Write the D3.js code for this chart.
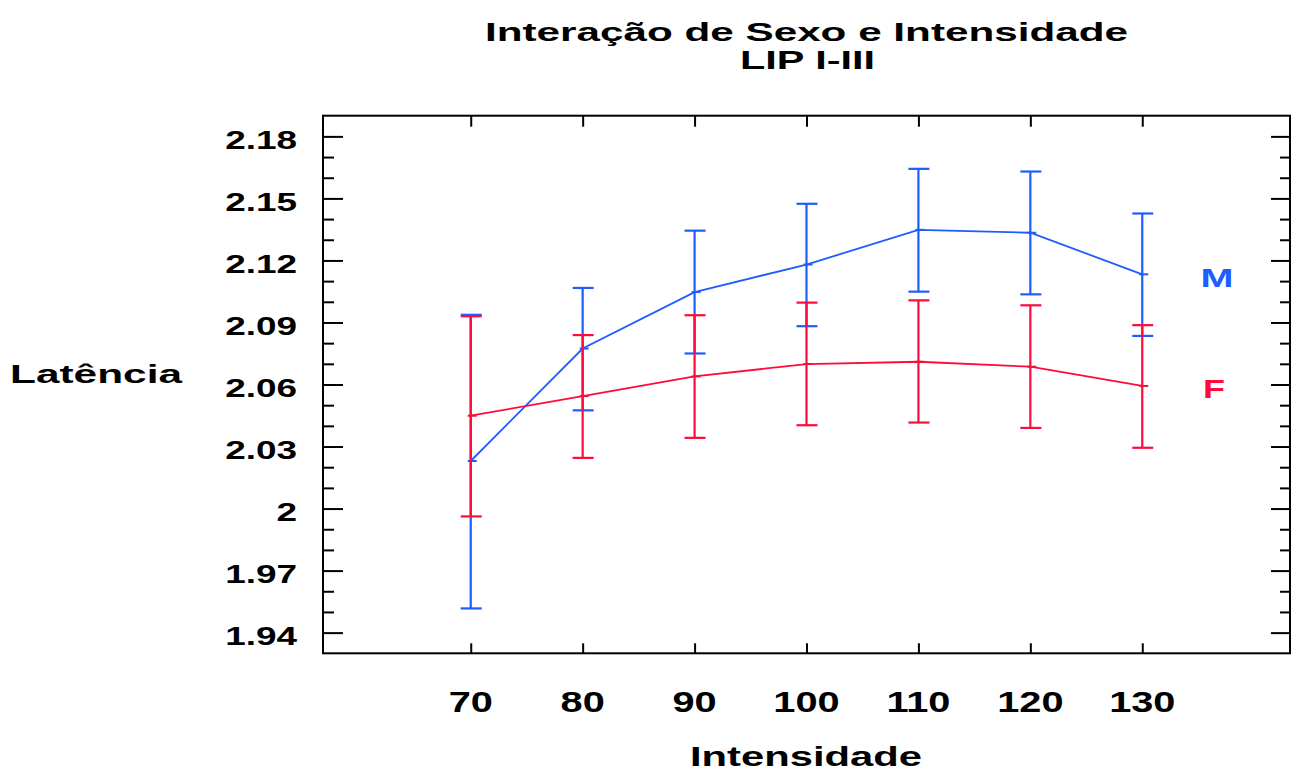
<!DOCTYPE html>
<html>
<head>
<meta charset="utf-8">
<script src="https://cdn.jsdelivr.net/npm/d3@7/dist/d3.min.js"></script>
<style>
  html, body { margin: 0; padding: 0; background: #fff; }
  svg { display: block; }
  text { font-family: "Liberation Sans", Arial, sans-serif; font-weight: bold; }
</style>
</head>
<body>
<svg id="chart" width="1299" height="774"></svg>
<script>
// ---- data ----
const intensities = [70, 80, 90, 100, 110, 120, 130];
const mMean  = [2.0230, 2.0774, 2.1047, 2.1180, 2.1348, 2.1334, 2.1133];
const mLower = [1.9517, 2.0475, 2.0750, 2.0882, 2.1049, 2.1036, 2.0835];
const mUpper = [2.0937, 2.1067, 2.1344, 2.1474, 2.1643, 2.1630, 2.1427];
const fMean  = [2.0449, 2.0544, 2.0639, 2.0699, 2.0710, 2.0686, 2.0593];
const fLower = [1.9962, 2.0245, 2.0342, 2.0403, 2.0416, 2.0390, 2.0294];
const fUpper = [2.0930, 2.0839, 2.0935, 2.0996, 2.1007, 2.0983, 2.0887];
const yTickLabels = [1.94, 1.97, 2.00, 2.03, 2.06, 2.09, 2.12, 2.15, 2.18];
const yMinorTicks = [1.94,1.95,1.96,1.97,1.98,1.99,2.00,2.01,2.02,2.03,2.04,2.05,2.06,2.07,2.08,2.09,2.10,2.11,2.12,2.13,2.14,2.15,2.16,2.17,2.18];
const xTickLabels = [70, 80, 90, 100, 110, 120, 130];
const seriesNames = ["M", "F"];
const titleLines = ["Interação de Sexo e Intensidade", "LIP I-III"];
const xTitle = "Intensidade";
const yTitle = "Latência";

// ---- layout ----
const L = 323, R = 1290, T = 115.7, B = 653.3;
const BLUE = "#1f5cff", RED = "#ff0a3a";

const svg = d3.select("#chart");
const x = d3.scaleLinear().domain([56.8, 143.2]).range([L, R]);
const y = d3.scaleLinear().domain([1.93, 2.19]).range([B, T]);

const isMajor = v => Math.round((v - 1.94) / 0.01) % 3 === 0;

// ticks via axes
const tickStyle = g => {
  g.select(".domain").remove();
  g.selectAll("text").remove();
  g.selectAll("line").attr("stroke", "#000").attr("stroke-width", 2);
};
const leftAx = svg.append("g").attr("transform", `translate(${L},0)`)
  .call(d3.axisRight(y).tickValues(yMinorTicks).tickSize(11)).call(tickStyle);
leftAx.selectAll(".tick line").attr("x2", d => isMajor(d) ? 20 : 11);
const rightAx = svg.append("g").attr("transform", `translate(${R},0)`)
  .call(d3.axisLeft(y).tickValues(yMinorTicks).tickSize(10)).call(tickStyle);
rightAx.selectAll(".tick line").attr("x2", d => isMajor(d) ? -19 : -10);
svg.append("g").attr("transform", `translate(0,${B})`)
  .call(d3.axisTop(x).tickValues(xTickLabels).tickSize(10)).call(tickStyle);
svg.append("g").attr("transform", `translate(0,${T})`)
  .call(d3.axisBottom(x).tickValues(xTickLabels).tickSize(11)).call(tickStyle);

// frame
svg.append("rect").attr("x", L).attr("y", T).attr("width", R - L).attr("height", B - T)
  .attr("fill", "none").attr("stroke", "#000").attr("stroke-width", 2);

// tick labels
svg.append("g").selectAll("text").data(yTickLabels).join("text")
  .attr("transform", d => `translate(297,${y(d) + 12.5}) scale(1.42,1)`)
  .attr("text-anchor", "end").attr("font-size", 26).attr("fill", "#000")
  .text(d => d3.format("")(+d.toFixed(2)));
svg.append("g").selectAll("text").data(xTickLabels).join("text")
  .attr("transform", d => `translate(${x(d)},712) scale(1.37,1)`)
  .attr("text-anchor", "middle").attr("font-size", 29).attr("fill", "#000")
  .text(d => d);

// titles
const tText = (str, cx, by, fs, w, color) => svg.append("text")
  .attr("x", cx).attr("y", by).attr("text-anchor", "middle").attr("font-size", fs)
  .attr("fill", color || "#000").attr("textLength", w).attr("lengthAdjust", "spacingAndGlyphs")
  .text(str);
tText(titleLines[0], 806.5, 41, 26, 643);
tText(titleLines[1], 807.5, 68.5, 26, 135);
tText(yTitle, 96, 383, 25, 172);
tText(xTitle, 806, 766, 28, 232);

// series
const series = [
  { name: seriesNames[0], mean: mMean, lo: mLower, hi: mUpper, color: BLUE },
  { name: seriesNames[1], mean: fMean, lo: fLower, hi: fUpper, color: RED }
];
const line = d3.line().x(d => x(d.x)).y(d => y(d.v));
series.forEach(s => {
  const pts = intensities.map((xi, i) => ({ x: xi, v: s.mean[i], lo: s.lo[i], hi: s.hi[i] }));
  const g = svg.append("g");
  g.append("path").datum(pts).attr("d", line).attr("fill", "none")
    .attr("stroke", s.color).attr("stroke-width", 1.8);
  g.selectAll(".eb").data(pts).join("line")
    .attr("x1", d => x(d.x)).attr("x2", d => x(d.x))
    .attr("y1", d => y(d.hi)).attr("y2", d => y(d.lo))
    .attr("stroke", s.color).attr("stroke-width", 2.2);
  ["hi", "lo"].forEach(k => {
    g.selectAll(".cap" + k).data(pts).join("line")
      .attr("x1", d => x(d.x) - 10).attr("x2", d => x(d.x) + 11)
      .attr("y1", d => y(d[k])).attr("y2", d => y(d[k]))
      .attr("stroke", s.color).attr("stroke-width", 2.2);
  });
  g.selectAll(".mk").data(pts).join("line")
    .attr("x1", d => x(d.x) - 3).attr("x2", d => x(d.x) + 6)
    .attr("y1", d => y(d.v)).attr("y2", d => y(d.v))
    .attr("stroke", s.color).attr("stroke-width", 2);
});

// series labels
tText(seriesNames[0], 1217, 287, 26, 33, BLUE);
tText(seriesNames[1], 1214, 398, 26, 22, RED);
</script>
</body>
</html>
